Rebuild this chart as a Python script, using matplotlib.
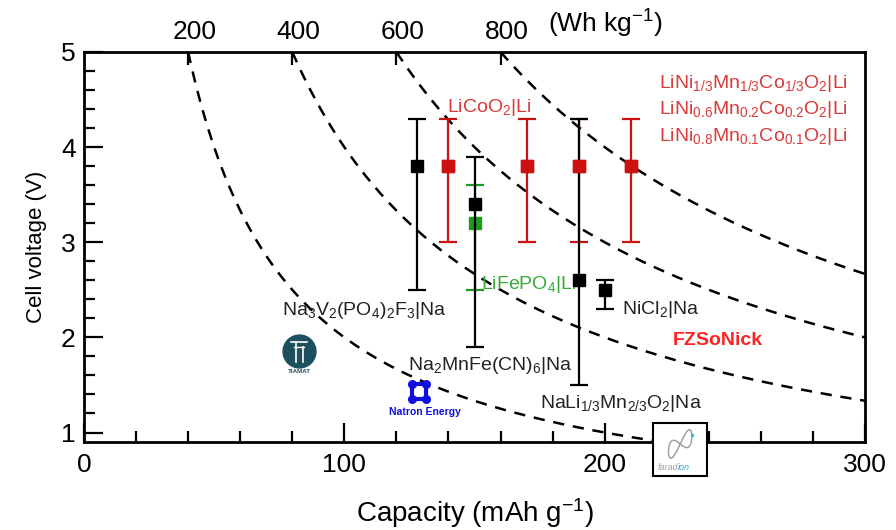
import numpy as np
import matplotlib
matplotlib.use("Agg")
import matplotlib.pyplot as plt
import matplotlib.transforms as mtransforms
from matplotlib.patches import Rectangle

plt.rcParams['font.family'] = ['Liberation Sans', 'DejaVu Sans']
plt.rcParams['mathtext.fontset'] = 'custom'
plt.rcParams['mathtext.rm'] = 'Liberation Sans'
plt.rcParams['mathtext.it'] = 'Liberation Sans:italic'
plt.rcParams['mathtext.bf'] = 'Liberation Sans:bold'

# ---- data ----
energy_levels = [200, 400, 600, 800]          # Wh/kg iso-lines
li_cap = [140, 170, 190, 210]                 # LiCoO2, NCM111, NCM622, NCM811
li_v = [3.8, 3.8, 3.8, 3.8]
li_vmin = [3.0, 3.0, 3.0, 3.0]
li_vmax = [4.3, 4.3, 4.3, 4.3]
lfp_cap = [150]
lfp_v = [3.2]
lfp_vmin = [2.5]
lfp_vmax = [3.6]
na_cap = [128, 150, 190, 200]                 # NVPF, NaMnFeCN, NaLiMnO, NiCl2
na_v = [3.8, 3.4, 2.6, 2.5]
na_vmin = [2.5, 1.9, 1.5, 2.3]
na_vmax = [4.3, 3.9, 4.3, 2.6]

RED = '#cc1111'
RED_T = '#d93a3a'
GREEN = '#1e9a1e'
GREEN_T = '#3aaa3a'

fig = plt.figure(figsize=(8.96, 5.30), dpi=100)
ax = fig.add_axes([0.09375, 0.166, 0.8717, 0.7359])
ax.set_xlim(0, 300)
ax.set_ylim(0.9, 5)

# iso-energy dashed curves
for E in energy_levels:
    c = np.linspace(E / 5.0, 300, 400)
    ax.plot(c, E / c, ls=(0, (4.5, 3.5)), color='black', lw=1.8, zorder=1)

def ebar(x, y, lo, hi, color, z):
    x = np.asarray(x); y = np.asarray(y)
    yerr = np.vstack([y - np.asarray(lo), np.asarray(hi) - y])
    ax.errorbar(x, y, yerr=yerr, fmt='s', color=color, ecolor=color,
                ms=8, elinewidth=1.6, capsize=6.5, capthick=1.6, zorder=z)

ebar(li_cap, li_v, li_vmin, li_vmax, RED, 3)
ebar(lfp_cap, lfp_v, lfp_vmin, lfp_vmax, GREEN, 3)
ebar(na_cap, na_v, na_vmin, na_vmax, 'black', 4)
ax.plot(li_cap, li_v, 's', color=RED, ms=8, zorder=5)

# axes styling
for s in ax.spines.values():
    s.set_linewidth(2)
ax.set_xticks([0, 100, 200, 300])
ax.set_xticks(np.arange(0, 301, 20), minor=True)
ax.set_yticks([1, 2, 3, 4, 5])
ax.set_yticks(np.arange(1, 5.01, 0.2), minor=True)
ax.tick_params(which='major', direction='in', length=14, width=1.6,
               labelsize=19, pad=8)
ax.tick_params(which='minor', direction='in', length=8, width=1.6)
ax.tick_params(axis='y', which='major', pad=6)
ax.set_xlabel('Capacity (mAh g$^{-1}$)', fontsize=20, labelpad=14)
ax.set_ylabel('Cell voltage (V)', fontsize=16, labelpad=10)

# top axis with energy labels
ax2 = ax.twiny()
ax2.set_xlim(ax.get_xlim())
ax2.set_xticks([E / 5.0 for E in energy_levels])
ax2.set_xticklabels([str(E) for E in energy_levels])
ax2.tick_params(direction='in', length=9, width=1.6, labelsize=19, pad=6)
for s in ax2.spines.values():
    s.set_visible(False)
shift = mtransforms.ScaledTranslation(6 / 100, 0, fig.dpi_scale_trans)
for lab in ax2.get_xticklabels():
    lab.set_transform(lab.get_transform() + shift)
ax.text(0.667, 1.032, '(Wh kg$^{-1}$)', transform=ax.transAxes, fontsize=19,
        ha='center', va='bottom')

# annotations
ax.text(139.5, 4.42, 'LiCoO$_2$|Li', color=RED_T, fontsize=14, ha='left', va='center')
ax.text(293.5, 4.67, 'LiNi$_{1/3}$Mn$_{1/3}$Co$_{1/3}$O$_2$|Li', color=RED_T,
        fontsize=14, ha='right', va='center')
ax.text(293.5, 4.40, 'LiNi$_{0.6}$Mn$_{0.2}$Co$_{0.2}$O$_2$|Li', color=RED_T,
        fontsize=14, ha='right', va='center')
ax.text(293.5, 4.11, 'LiNi$_{0.8}$Mn$_{0.1}$Co$_{0.1}$O$_2$|Li', color=RED_T,
        fontsize=14, ha='right', va='center')
ax.text(152.5, 2.56, 'LiFePO$_4$|Li', color=GREEN_T, fontsize=14, ha='left', va='center')
ax.text(107.6, 2.28, 'Na$_3$V$_2$(PO$_4$)$_2$F$_3$|Na', color='#222222', fontsize=14,
        ha='center', va='center')
ax.text(206.5, 2.29, 'NiCl$_2$|Na', color='#222222', fontsize=14, ha='left', va='center')
ax.text(226, 1.97, 'FZSoNick', color='#ff2222', fontsize=14, fontweight='bold',
        ha='left', va='center')
ax.text(124.5, 1.70, 'Na$_2$MnFe(CN)$_6$|Na', color='#222222', fontsize=14,
        ha='left', va='center')
ax.text(175, 1.31, 'NaLi$_{1/3}$Mn$_{2/3}$O$_2$|Na', color='#222222', fontsize=14,
        ha='left', va='center')

# TIAMAT logo
ax.scatter([82.6], [1.86], s=560, color='#1d4f5c', zorder=6)
ax.plot([79.5, 85.7], [1.95, 1.95], color='white', lw=1.2, zorder=7)
ax.plot([81.5, 81.5], [1.95, 1.74], color='white', lw=1.2, zorder=7)
ax.plot([84.0, 84.0], [1.90, 1.74], color='white', lw=1.2, zorder=7)
ax.plot([80.5, 84.5], [1.90, 1.90], color='white', lw=1.0, zorder=7)
ax.text(82.6, 1.64, 'TIAMAT', fontsize=4.5, color='#1d4f5c', ha='center',
        va='center', fontweight='bold')

# Natron Energy logo
nx, ny, dx, dy = 128.7, 1.43, 2.6, 0.075
ax.plot([nx - dx, nx + dx, nx + dx, nx - dx, nx - dx],
        [ny - dy, ny - dy, ny + dy, ny + dy, ny - dy], color='#1010dd', lw=3, zorder=6)
ax.scatter([nx - dx, nx + dx, nx + dx, nx - dx], [ny - dy, ny - dy, ny + dy, ny + dy],
           s=30, color='#1010dd', zorder=7)
ax.text(131.0, 1.22, 'Natron Energy', fontsize=7.5, fontweight='bold', color='#1010dd',
        ha='center', va='center')

# faradion logo box
box = Rectangle((218.6, 0.54), 20.7, 0.565, facecolor='white', edgecolor='black',
                lw=1.5, clip_on=False, zorder=8)
ax.add_patch(box)
t = np.linspace(0, 2 * np.pi, 200)
lx = 229 + 4.5 * np.sin(t)
ly = 0.88 + 0.09 * np.sin(t) * np.cos(t) * 2 + 0.08 * np.sin(t)
ax.plot(lx, ly, color='#9a9a9a', lw=1.0, clip_on=False, zorder=9)
ax.plot([233.5], [0.97], '.', color='#33bbcc', ms=3, clip_on=False, zorder=9)
ax.text(228.2, 0.63, 'farad', fontsize=6.5, style='italic', color='#a0a0a0',
        ha='right', va='center', clip_on=False, zorder=9)
ax.text(228.2, 0.63, 'ion', fontsize=6.5, style='italic', color='#33aacc',
        ha='left', va='center', clip_on=False, zorder=9)

fig.savefig('out.png', dpi=100)
